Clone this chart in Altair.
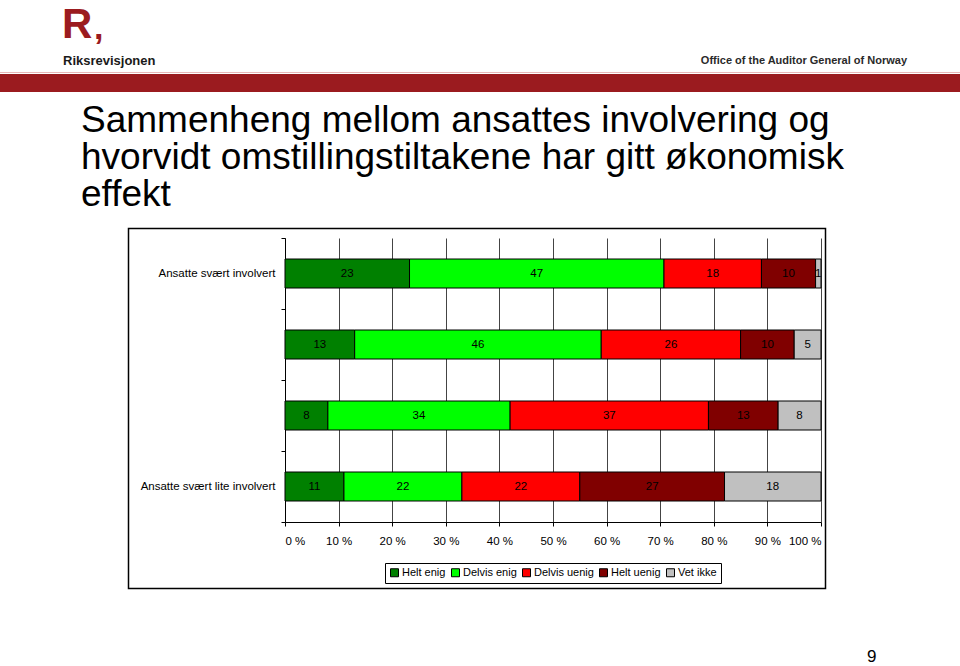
import altair as alt
import pandas as pd

# ---- data ----
row_ids = [1, 2, 3, 4]
row_labels = ["Ansatte svært involvert", "", "", "Ansatte svært lite involvert"]
answers = ["Helt enig", "Delvis enig", "Delvis uenig", "Helt uenig", "Vet ikke"]
colors = ["#008000", "#00FF00", "#FF0000", "#800000", "#C0C0C0"]
row1 = [23, 47, 18, 10, 1]
row2 = [13, 46, 26, 10, 5]
row3 = [8, 34, 37, 13, 8]
row4 = [11, 22, 22, 27, 18]
x_ticks = [0, 10, 20, 30, 40, 50, 60, 70, 80, 90, 100]
title_lines = [
    "Sammenheng mellom ansattes involvering og",
    "hvorvidt omstillingstiltakene har gitt økonomisk",
    "effekt",
]
logo_text = "R"
org_name = "Riksrevisjonen"
org_english = "Office of the Auditor General of Norway"
page_number = "9"

FONT = "Liberation Sans"

# ---- build table (100 % stacked) ----
recs = []
for rid, vals in zip(row_ids, [row1, row2, row3, row4]):
    total = float(sum(vals))
    cum = 0.0
    for ans, v in zip(answers, vals):
        start = cum / total
        cum += v
        end = cum / total
        recs.append({"row": rid, "answer": ans, "value": v,
                     "label": str(v), "start": start, "end": end,
                     "mid": (start + end) / 2})
df = pd.DataFrame(recs)

label_expr = " : ".join(
    [f"datum.value == {rid} ? '{lab}'" for rid, lab in zip(row_ids, row_labels)]
) + " : ''"

W, H = 536, 284
OX, OY = 285, 238  # plot origin on the page

y_enc = alt.Y(
    "row:O",
    scale=alt.Scale(domain=row_ids, paddingInner=0, paddingOuter=0),
    axis=alt.Axis(
        title=None, labelExpr=label_expr, tickBand="extent", tickSize=4,
        tickColor="black", domainColor="black", labelPadding=6,
        labelFont=FONT, labelFontSize=11.5, labelColor="black", grid=False,
    ),
)
x_axis = alt.Axis(
    title=None, values=[t / 100 for t in x_ticks],
    labelExpr="round(datum.value*100) + ' %'",
    tickSize=4, tickColor="black", domainColor="black",
    labelPadding=9, labelFont=FONT, labelFontSize=11.5, labelColor="black",
    grid=True, gridColor="#444444", gridWidth=1,
)

bars = alt.Chart(df).mark_bar(size=29, stroke="black", strokeWidth=1).encode(
    x=alt.X("start:Q", scale=alt.Scale(domain=[0, 1], nice=False), axis=x_axis),
    x2="end:Q",
    y=y_enc,
    color=alt.Color(
        "answer:N",
        scale=alt.Scale(domain=answers, range=colors),
        legend=alt.Legend(
            orient="none", legendX=100, legendY=325, direction="horizontal",
            title=None, strokeColor="black", padding=4, symbolType="square",
            symbolSize=64, symbolStrokeColor="black", symbolStrokeWidth=1,
            labelFont=FONT, labelFontSize=11, labelColor="black",
            columnPadding=3, labelOffset=2,
        ),
    ),
)

labels = alt.Chart(df).mark_text(font=FONT, fontSize=11.5, color="black").encode(
    x="mid:Q", y=alt.Y("row:O"), text="label:N"
)

one = pd.DataFrame({"d": [0]})


def px(x):
    return x - OX


def py(y):
    return y - OY


band = alt.Chart(one).mark_rect(fill="#9B1B1F").encode(
    x=alt.value(px(0)), x2=alt.value(px(960)),
    y=alt.value(py(74)), y2=alt.value(py(92)),
)
band_line = alt.Chart(one).mark_rule(color="#E8B8B8", strokeWidth=1).encode(
    x=alt.value(px(0)), x2=alt.value(px(960)), y=alt.value(py(72.5)),
)
logo = alt.Chart(one).mark_text(
    text=logo_text, font=FONT, fontSize=42, fontWeight="bold",
    color="#9B1B1F", align="left", baseline="alphabetic",
).encode(x=alt.value(px(62)), y=alt.value(py(38)))
logo_comma = alt.Chart(one).mark_text(
    text=",", font=FONT, fontSize=34, fontWeight="bold",
    color="#9B1B1F", align="left", baseline="alphabetic",
).encode(x=alt.value(px(94)), y=alt.value(py(39)))
org = alt.Chart(one).mark_text(
    text=org_name, font=FONT, fontSize=13, fontWeight="bold",
    color="#1A1A1A", align="left", baseline="alphabetic",
).encode(x=alt.value(px(63)), y=alt.value(py(65)))
org_en = alt.Chart(one).mark_text(
    text=org_english, font=FONT, fontSize=11, fontWeight="bold",
    color="#2A2A2A", align="right", baseline="alphabetic",
).encode(x=alt.value(px(907)), y=alt.value(py(64)))
title = alt.Chart(one).mark_text(
    text=title_lines, font=FONT, fontSize=37, lineHeight=37,
    color="black", align="left", baseline="alphabetic",
).encode(x=alt.value(px(81)), y=alt.value(py(132)))
frame = alt.Chart(one).mark_rect(
    fill="transparent", stroke="black", strokeWidth=1.5,
).encode(
    x=alt.value(px(128.5)), x2=alt.value(px(825.5)),
    y=alt.value(py(228.5)), y2=alt.value(py(588.5)),
)
page = alt.Chart(one).mark_text(
    text=page_number, font=FONT, fontSize=17, color="black",
    align="left", baseline="alphabetic",
).encode(x=alt.value(px(867)), y=alt.value(py(662)))

chart = alt.layer(
    band_line, band, logo, logo_comma, org, org_en, title, frame,
    bars, labels, page,
).properties(
    width=W, height=H,
    padding={"left": OX, "top": OY, "right": 960 - OX - W, "bottom": 666 - OY - H},
    autosize=alt.AutoSizeParams(type="none"),
    background="white",
).configure_view(stroke="transparent")

chart.save("out.html", embed_options={"renderer": "svg", "actions": False})
